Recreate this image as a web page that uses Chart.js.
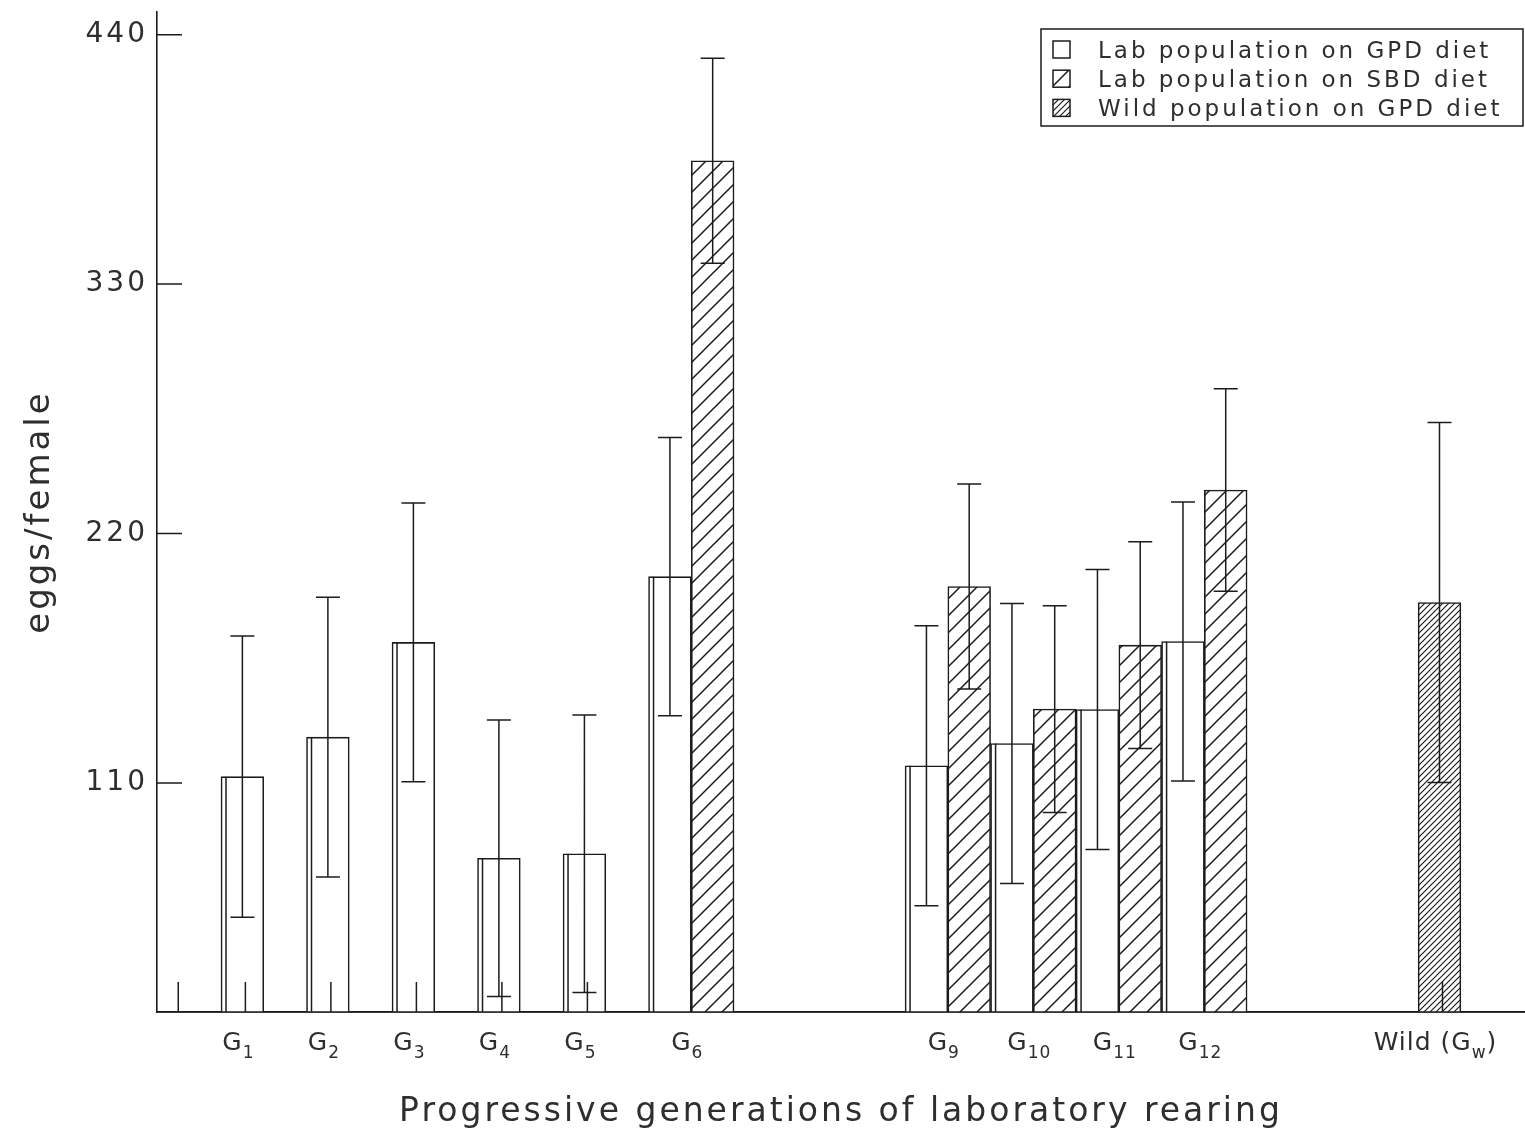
<!DOCTYPE html>
<html>
<head>
<meta charset="utf-8">
<title>Eggs per female over laboratory generations</title>
<script src="https://cdn.jsdelivr.net/npm/chart.js@4.4.1/dist/chart.umd.min.js"></script>
<style>
  html, body { margin: 0; padding: 0; background: #fff; }
  .chart-box { position: relative; width: 1525px; height: 1134px; }
</style>
</head>
<body>
<div class="chart-box"><canvas id="eggs"></canvas></div>
<script>
// one slot per generation; G7, G8, G13, G14 were not sampled. {..} = subscript
const generations = ['G{1}', 'G{2}', 'G{3}', 'G{4}', 'G{5}', 'G{6}', '', '', 'G{9}', 'G{10}', 'G{11}', 'G{12}', '', '', 'Wild (G{w})'];

// mean eggs/female and error half-widths
const labGpd     = [112.8, 130.2, 172.0, 76.8, 78.8, 201.0, null, null, 117.6, 127.4, 142.4, 172.4, null, null, null];
const labGpdErr  = [62, 61.7, 61.5, 61, 61.2, 61.3, null, null, 61.7, 61.7, 61.7, 61.5, null, null, null];
const labSbd     = [null, null, null, null, null, 384.4, null, null, 196.6, 142.6, 170.8, 239.2, null, null, null];
const labSbdErr  = [null, null, null, null, null, 45.2, null, null, 45.2, 45.6, 45.6, 44.6, null, null, null];
const wildGpd    = [null, null, null, null, null, null, null, null, null, null, null, null, null, null, 189.6];
const wildGpdErr = [null, null, null, null, null, null, null, null, null, null, null, null, null, null, 79.4];

const yTicks = [110, 220, 330, 440];

const ink = '#1c1c1c';
const textInk = '#2e2e2e';
const family = '"DejaVu Sans", "Liberation Sans", sans-serif';

const canvas = document.getElementById('eggs');

// diagonal "/" hatching, step = distance between lines
function hatch(step, lineWidth) {
  const tile = document.createElement('canvas');
  tile.width = step;
  tile.height = step;
  const c = tile.getContext('2d');
  c.fillStyle = '#fff';
  c.fillRect(0, 0, step, step);
  c.strokeStyle = ink;
  c.lineWidth = lineWidth;
  c.beginPath();
  c.moveTo(0, step); c.lineTo(step, 0);
  c.moveTo(-step / 2, step / 2); c.lineTo(step / 2, -step / 2);
  c.moveTo(step / 2, step * 1.5); c.lineTo(step * 1.5, step / 2);
  c.stroke();
  return canvas.getContext('2d').createPattern(tile, 'repeat');
}

const toPoints = arr => arr.map((v, i) => ({ x: i, y: v }));

// wider tracking for all chart text
const wideText = {
  id: 'wideText',
  beforeDraw(chart) {
    chart.ctx.letterSpacing = '3px';
  }
};

// mean +/- error whiskers with caps
const errorBars = {
  id: 'errorBars',
  afterDatasetsDraw(chart) {
    const ctx = chart.ctx;
    const y = chart.scales.y;
    ctx.save();
    ctx.strokeStyle = ink;
    ctx.lineWidth = 1.5;
    ctx.beginPath();
    chart.data.datasets.forEach((ds, i) => {
      const meta = chart.getDatasetMeta(i);
      meta.data.forEach((bar, j) => {
        const v = ds.data[j].y;
        const e = ds.errors[j];
        if (v == null || e == null) return;
        const top = y.getPixelForValue(v + e);
        const bot = y.getPixelForValue(v - e);
        ctx.moveTo(bar.x, top); ctx.lineTo(bar.x, bot);
        ctx.moveTo(bar.x - 12, top); ctx.lineTo(bar.x + 12, top);
        ctx.moveTo(bar.x - 12, bot); ctx.lineTo(bar.x + 12, bot);
      });
    });
    ctx.stroke();
    ctx.restore();
  }
};

function drawSubLabel(ctx, text, cx, cy) {
  const m = text.match(/^(.*?)\{(.*?)\}(.*)$/);
  const parts = m ? [[m[1], false], [m[2], true], [m[3], false]] : [[text, false]];
  const big = '25px ' + family;
  const small = '17px ' + family;
  let total = 0;
  parts.forEach(p => { ctx.font = p[1] ? small : big; total += ctx.measureText(p[0]).width; });
  let px = cx - total / 2;
  parts.forEach(p => {
    ctx.font = p[1] ? small : big;
    ctx.fillText(p[0], px, p[1] ? cy + 8 : cy);
    px += ctx.measureText(p[0]).width;
  });
}

const axisDecor = {
  id: 'axisDecor',
  afterDatasetsDraw(chart) {
    const { ctx, chartArea: area, scales: { x, y } } = chart;
    const sets = chart.data.datasets;
    ctx.save();
    ctx.strokeStyle = ink;
    ctx.lineWidth = 1.5;
    ctx.beginPath();
    // doubled left edge on the open bars
    chart.getDatasetMeta(0).data.forEach((bar, j) => {
      if (sets[0].data[j].y == null) return;
      const left = bar.x - bar.width / 2 + 5;
      ctx.moveTo(left, bar.y); ctx.lineTo(left, area.bottom);
    });
    // inward ticks on the value axis
    yTicks.forEach(v => {
      const py = y.getPixelForValue(v);
      ctx.moveTo(area.left, py); ctx.lineTo(area.left + 25, py);
    });
    // generation ticks standing on the baseline
    const tickAt = [x.getPixelForValue(-1)];
    const labelAt = [];
    generations.forEach((g, i) => {
      if (!g) return;
      const xs = [];
      sets.forEach((ds, k) => {
        if (ds.data[i].y != null) xs.push(chart.getDatasetMeta(k).data[i].x);
      });
      const mid = xs.reduce((a, b) => a + b, 0) / xs.length;
      if (xs.length === 1) tickAt.push(mid + 3);
      labelAt.push([g, mid - 4]);
    });
    tickAt.forEach(px => { ctx.moveTo(px, area.bottom); ctx.lineTo(px, area.bottom - 30); });
    ctx.moveTo(area.left, area.bottom); ctx.lineTo(area.right, area.bottom);
    ctx.stroke();

    ctx.fillStyle = textInk;
    ctx.textAlign = 'left';
    ctx.textBaseline = 'alphabetic';
    ctx.letterSpacing = '1px';
    labelAt.forEach(([g, px]) => drawSubLabel(ctx, g, px, area.bottom + 38));
    ctx.restore();
  }
};

// framed key in the upper right corner
const boxLegend = {
  id: 'boxLegend',
  afterDraw(chart) {
    const { ctx, chartArea: area } = chart;
    const w = 482, h = 97;
    const left = area.right - 2 - w;
    const top = area.top + 17;
    ctx.save();
    ctx.letterSpacing = '3px';
    ctx.strokeStyle = ink;
    ctx.lineWidth = 1.5;
    ctx.fillStyle = '#fff';
    ctx.fillRect(left, top, w, h);
    ctx.strokeRect(left, top, w, h);
    ctx.font = '23px ' + family;
    ctx.textBaseline = 'alphabetic';
    chart.data.datasets.forEach((ds, k) => {
      const base = top + 29 + k * 29.2;
      ctx.fillStyle = ds.backgroundColor;
      ctx.fillRect(left + 12, base - 17, 17, 17);
      ctx.strokeRect(left + 12, base - 17, 17, 17);
      ctx.fillStyle = textInk;
      ctx.fillText(ds.label, left + 57, base);
    });
    ctx.restore();
  }
};

const barStyle = {
  borderColor: ink,
  borderWidth: 1.6,
  barPercentage: 1,
  categoryPercentage: 1,
  clip: 0
};

new Chart(canvas, {
  type: 'bar',
  data: {
    datasets: [
      Object.assign({ label: 'Lab population on GPD diet', data: toPoints(labGpd), errors: labGpdErr, stack: 'gpd', backgroundColor: '#fff' }, barStyle),
      Object.assign({ label: 'Lab population on SBD diet', data: toPoints(labSbd), errors: labSbdErr, stack: 'sbd', backgroundColor: hatch(17, 1.5) }, barStyle),
      Object.assign({ label: 'Wild population on GPD diet', data: toPoints(wildGpd), errors: wildGpdErr, stack: 'gpd', backgroundColor: hatch(6, 1.2) }, barStyle)
    ]
  },
  options: {
    responsive: true,
    maintainAspectRatio: false,
    animation: false,
    layout: { padding: { top: 12, right: 0, bottom: 0, left: 0 } },
    scales: {
      x: {
        type: 'linear',
        min: -1.2485,
        max: 14.75,
        offset: false,
        grid: { display: false, drawTicks: false, offset: false },
        border: { display: true, color: ink, width: 1.6 },
        ticks: { display: false },
        afterBuildTicks: scale => { scale.ticks = generations.map((g, i) => ({ value: i })); },
        afterFit: scale => {
          scale.height = 122;
          scale.paddingLeft = 0;
          scale.paddingRight = 0;
        },
        title: {
          display: true,
          text: 'Progressive generations of laboratory rearing',
          color: textInk,
          font: { family: family, size: 33 },
          padding: { top: 0, bottom: 2 }
        }
      },
      y: {
        min: 9,
        max: 450,
        grid: { display: false, drawTicks: false },
        border: { display: true, color: ink, width: 1.6 },
        afterBuildTicks: scale => { scale.ticks = yTicks.map(v => ({ value: v })); },
        afterFit: scale => {
          scale.width = 157;
          scale.paddingTop = 0;
          scale.paddingBottom = 0;
        },
        ticks: {
          padding: 9,
          color: textInk,
          font: { family: family, size: 28 }
        },
        title: {
          display: true,
          text: 'eggs/female',
          color: textInk,
          font: { family: family, size: 34 },
          padding: { top: 20, bottom: 0 }
        }
      }
    },
    plugins: {
      legend: { display: false },
      tooltip: { enabled: false }
    }
  },
  plugins: [wideText, errorBars, axisDecor, boxLegend]
});
</script>
</body>
</html>
